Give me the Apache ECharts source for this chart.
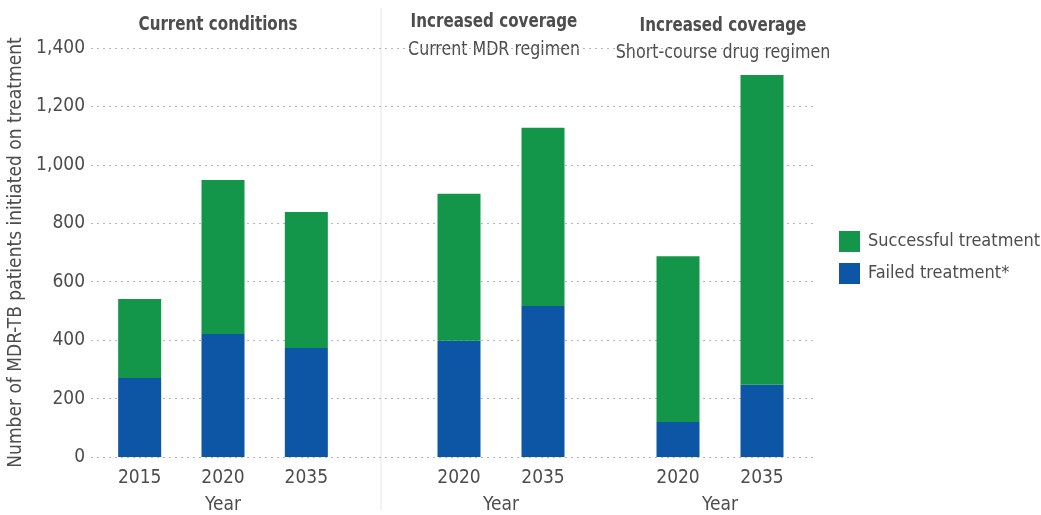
<!DOCTYPE html>
<html>
<head>
<meta charset="utf-8">
<script src="https://cdn.jsdelivr.net/npm/echarts@6/dist/echarts.min.js"></script>
<style>
  html, body { margin: 0; padding: 0; background: #fff; }
  #chart { width: 1041px; height: 515px; }
</style>
</head>
<body>
<div id="chart"></div>
<script>
// panels: current conditions, increased coverage (current regimen), increased coverage (short course)
const currentYears = ['2015', '2020', '2035'];
const currentFailed = [270, 421, 373];
const currentSuccess = [271, 527, 466];

const mdrYears = ['2020', '2035'];
const mdrFailed = [398, 517];
const mdrSuccess = [503, 610];

const shortYears = ['2020', '2035'];
const shortFailed = [120, 247];
const shortSuccess = [567, 1061];

const yTicks = [0, 200, 400, 600, 800, 1000, 1200, 1400];

const GREEN = '#139649';
const BLUE = '#0d56a6';
const FONT = '"DejaVu Sans Condensed", "Liberation Sans Narrow", Roboto, sans-serif';
const TXT = '#4d4d4d';

const chart = echarts.init(document.getElementById('chart'), null, { renderer: 'canvas' });

function panelGrid(left, width) {
    return { left: left, width: width, top: 48, bottom: 58, outerBoundsMode: 'none' };
}

function hiddenY(idx) {
    return {
        type: 'value', gridIndex: idx, min: 0, max: yTicks[yTicks.length - 1], interval: 200,
        show: false, splitLine: { show: false }
    };
}

function yearAxis(idx, years) {
    return {
        type: 'category', gridIndex: idx, data: years,
        name: 'Year', nameLocation: 'middle', nameGap: 39,
        nameTextStyle: { fontFamily: FONT, fontSize: 19, color: TXT },
        axisLine: { show: false }, axisTick: { show: false },
        axisLabel: { fontFamily: FONT, fontSize: 19, color: TXT, margin: 12 }
    };
}

function barPair(idx, failed, success) {
    const stack = 'p' + idx;
    return [
        { name: 'Failed treatment*', type: 'bar', xAxisIndex: idx, yAxisIndex: idx, stack: stack,
          barWidth: 43, data: failed, itemStyle: { color: BLUE } },
        { name: 'Successful treatment', type: 'bar', xAxisIndex: idx, yAxisIndex: idx, stack: stack,
          barWidth: 43, data: success, itemStyle: { color: GREEN } }
    ];
}

function titleText(text, x, y, bold, sx) {
    return {
        type: 'text', x: x, y: y, scaleX: sx,
        style: { text: text, fontFamily: FONT, fontSize: 20, fontWeight: bold ? 'bold' : 'normal',
                 fill: TXT, align: 'center' }
    };
}

const option = {
    animation: false,
    grid: [
        { left: 91, right: 226, top: 48, bottom: 58, outerBoundsMode: 'none' },
        panelGrid(98, 250),
        panelGrid(417, 168),
        panelGrid(636, 168)
    ],
    xAxis: [
        { type: 'value', gridIndex: 0, min: 0, max: 1, show: false, splitLine: { show: false } },
        yearAxis(1, currentYears),
        yearAxis(2, mdrYears),
        yearAxis(3, shortYears)
    ],
    yAxis: [
        {
            type: 'value', gridIndex: 0, min: 0, max: 1400, interval: 200,
            name: 'Number of MDR-TB patients initiated on treatment',
            nameLocation: 'middle', nameGap: 62,
            nameTextStyle: { fontFamily: FONT, fontSize: 19, color: TXT },
            axisLine: { show: false }, axisTick: { show: false },
            axisLabel: {
                fontFamily: FONT, fontSize: 19, color: TXT, margin: 6,
                formatter: v => v.toLocaleString('en-US')
            },
            splitLine: { lineStyle: { type: [2, 4], color: '#b5b5b5', width: 1 } }
        },
        hiddenY(1), hiddenY(2), hiddenY(3)
    ],
    legend: {
        orient: 'vertical', left: 834, top: 226,
        icon: 'rect', itemWidth: 21, itemHeight: 21, itemGap: 11,
        data: ['Successful treatment', 'Failed treatment*'],
        textStyle: { fontFamily: FONT, fontSize: 18, color: TXT, padding: [0, 0, 0, 3] }
    },
    graphic: [
        { type: 'line', shape: { x1: 381, y1: 8, x2: 381, y2: 510 },
          style: { stroke: '#e6e6e6', lineWidth: 1 }, silent: true },
        titleText('Current conditions', 218, 15, true, 0.84),
        titleText('Increased coverage', 494, 12, true, 0.84),
        titleText('Current MDR regimen', 494, 40, false, 0.88),
        titleText('Increased coverage', 723, 16, true, 0.84),
        titleText('Short-course drug regimen', 723, 43, false, 0.885)
    ],
    series: [].concat(
        barPair(1, currentFailed, currentSuccess),
        barPair(2, mdrFailed, mdrSuccess),
        barPair(3, shortFailed, shortSuccess)
    )
};

chart.setOption(option);
window.addEventListener('resize', () => chart.resize());
</script>
</body>
</html>
